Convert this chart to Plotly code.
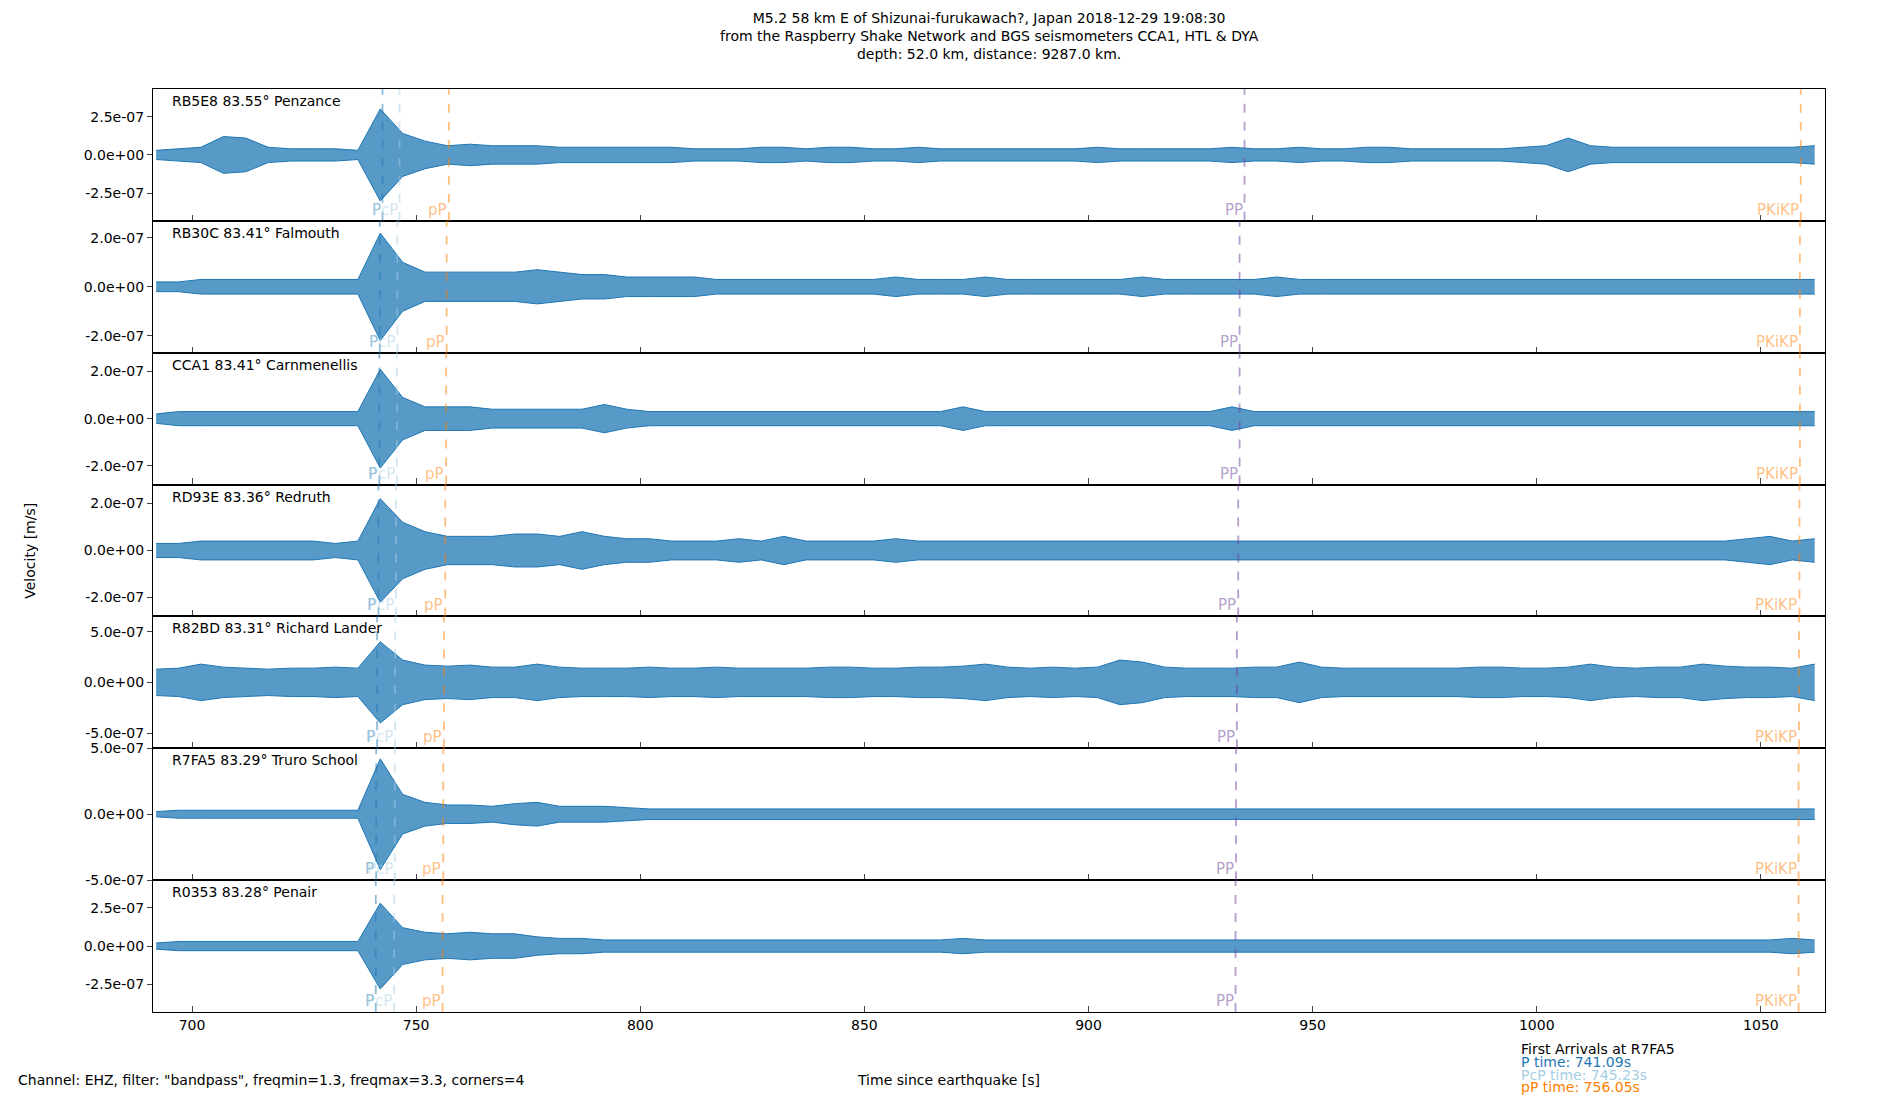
import numpy as np
import plotly.graph_objects as go
from plotly.subplots import make_subplots

# station labels
labels = ["RB5E8 83.55° Penzance", "RB30C 83.41° Falmouth", "CCA1 83.41° Carnmenellis",
          "RD93E 83.36° Redruth", "R82BD 83.31° Richard Lander", "R7FA5 83.29° Truro School",
          "R0353 83.28° Penair"]

# waveform envelope, units of 1e-8 m/s, one value every 5 s from 692 s
env_start, env_step = 692, 5
env = [
    [3, 4, 5, 12, 11, 5, 4, 4, 4, 3, 30, 14, 9, 6, 7, 6, 6, 6, 5, 5, 5, 5, 5, 5, 4, 4, 4, 5, 5, 4,
     5, 5, 4, 4, 5, 4, 4, 4, 4, 4, 4, 4, 5, 4, 4, 4, 4, 4, 5, 4, 4, 5, 4, 4, 5, 5, 4, 4, 4, 4,
     4, 5, 6, 11, 6, 5, 5, 5, 5, 5, 5, 5, 5, 5, 6],
    [2, 2, 3, 3, 3, 3, 3, 3, 3, 3, 22, 10, 6, 6, 6, 6, 6, 7, 6, 5, 5, 4, 4, 4, 4, 3, 3, 3, 3, 3,
     3, 3, 3, 4, 3, 3, 3, 4, 3, 3, 3, 3, 3, 3, 4, 3, 3, 3, 3, 3, 4, 3, 3, 3, 3, 3, 3, 3, 3, 3,
     3, 3, 3, 3, 3, 3, 3, 3, 3, 3, 3, 3, 3, 3, 3],
    [2, 3, 3, 3, 3, 3, 3, 3, 3, 3, 21, 9, 5, 5, 5, 4, 4, 4, 4, 4, 6, 4, 3, 3, 3, 3, 3, 3, 3, 3,
     3, 3, 3, 3, 3, 3, 5, 3, 3, 3, 3, 3, 3, 3, 3, 3, 3, 3, 5, 3, 3, 3, 3, 3, 3, 3, 3, 3, 3, 3,
     3, 3, 3, 3, 3, 3, 3, 3, 3, 3, 3, 3, 3, 3, 3],
    [3, 3, 4, 4, 4, 4, 4, 4, 3, 4, 22, 12, 8, 6, 6, 6, 7, 7, 6, 8, 6, 5, 5, 4, 4, 4, 5, 4, 6, 4,
     4, 4, 4, 5, 4, 4, 4, 4, 4, 4, 4, 4, 4, 4, 4, 4, 4, 4, 4, 4, 4, 4, 4, 4, 4, 4, 4, 4, 4, 4,
     4, 4, 4, 4, 4, 4, 4, 4, 4, 4, 4, 5, 6, 4, 5],
    [13, 14, 18, 15, 14, 13, 14, 14, 15, 14, 40, 22, 17, 16, 17, 15, 15, 18, 15, 14, 14, 14, 15, 14, 14, 15, 14, 14, 14, 14,
     15, 15, 14, 14, 15, 15, 16, 18, 15, 14, 15, 14, 15, 22, 20, 15, 14, 14, 14, 15, 15, 20, 15, 14, 14, 14, 14, 14, 14, 15,
     15, 14, 14, 15, 18, 15, 14, 15, 15, 18, 16, 15, 15, 14, 18],
    [2, 3, 3, 3, 3, 3, 3, 3, 3, 3, 42, 15, 9, 7, 7, 6, 8, 9, 6, 6, 6, 5, 4, 4, 4, 4, 4, 4, 4, 4,
     4, 4, 4, 4, 4, 4, 4, 4, 4, 4, 4, 4, 4, 4, 4, 4, 4, 4, 4, 4, 4, 4, 4, 4, 4, 4, 4, 4, 4, 4,
     4, 4, 4, 4, 4, 4, 4, 4, 4, 4, 4, 4, 4, 4, 4],
    [2, 3, 3, 3, 3, 3, 3, 3, 3, 3, 28, 12, 9, 8, 9, 8, 8, 6, 5, 5, 4, 4, 4, 4, 4, 4, 4, 4, 4, 4,
     4, 4, 4, 4, 4, 4, 5, 4, 4, 4, 4, 4, 4, 4, 4, 4, 4, 4, 4, 4, 4, 4, 4, 4, 4, 4, 4, 4, 4, 4,
     4, 4, 4, 4, 4, 4, 4, 4, 4, 4, 4, 4, 4, 5, 4],
]

# y axis half-range and tick value per panel (m/s)
yhalf = [4.3e-7, 2.7e-7, 2.8e-7, 2.8e-7, 6.5e-7, 5.0e-7, 4.3e-7]
ytick = [2.5e-7, 2.0e-7, 2.0e-7, 2.0e-7, 5.0e-7, 5.0e-7, 2.5e-7]

# arrival times per panel (s)
p_times = [742.5, 741.9, 741.8, 741.6, 741.3, 741.09, 741.0]
pcp_times = [746.3, 745.8, 745.7, 745.5, 745.3, 745.23, 745.1]
pp2_times = [757.3, 756.8, 756.7, 756.5, 756.2, 756.05, 755.9]
PP_times = [934.8, 933.7, 933.7, 933.4, 933.1, 932.9, 932.8]
pkikp_times = [1058.9, 1058.7, 1058.7, 1058.6, 1058.5, 1058.4, 1058.4]

phases = [
    ("P", p_times, "rgba(31,120,180,0.5)"),
    ("PcP", pcp_times, "rgba(166,206,227,0.5)"),
    ("pP", pp2_times, "rgba(255,127,0,0.5)"),
    ("PP", PP_times, "rgba(106,61,154,0.5)"),
    ("PKiKP", pkikp_times, "rgba(255,127,0,0.5)"),
]

n = len(labels)
fig = make_subplots(rows=n, cols=1, shared_xaxes=True, vertical_spacing=0)
blue = "#1f77b4"

for i in range(n):
    e = np.array(env[i]) * 1e-8
    t = env_start + env_step * np.arange(len(e))
    fig.add_trace(go.Scatter(x=t, y=-e, mode="lines", line=dict(color=blue, width=1),
                             showlegend=False, hoverinfo="skip"), row=i + 1, col=1)
    fig.add_trace(go.Scatter(x=t, y=e, mode="lines", line=dict(color=blue, width=1),
                             fill="tonexty", fillcolor="rgba(31,119,180,0.75)",
                             showlegend=False), row=i + 1, col=1)
    ax = "" if i == 0 else str(i + 1)
    for name, times, col in phases:
        fig.add_shape(type="line", x0=times[i], x1=times[i], y0=0, y1=1,
                      xref=f"x{ax}", yref=f"y{ax} domain",
                      line=dict(color=col, width=1.8, dash="dash"))
        fig.add_annotation(x=times[i], y=0, xref=f"x{ax}", yref=f"y{ax} domain",
                           text=name, showarrow=False, xanchor="right", yanchor="bottom",
                           font=dict(size=15, color=col))
    fig.add_annotation(x=0.01, y=0.985, xref=f"x{ax} domain", yref=f"y{ax} domain",
                       text=labels[i], showarrow=False, xanchor="left", yanchor="top",
                       font=dict(size=14, color="black"))
    tv = [-ytick[i], 0, ytick[i]]
    fig.update_yaxes(range=[-yhalf[i], yhalf[i]], tickvals=tv,
                     ticktext=[f"{v:.1e}" for v in tv], row=i + 1, col=1)

fig.update_xaxes(range=[691.3, 1064.3], tickvals=[700, 750, 800, 850, 900, 950, 1000, 1050],
                 ticks="inside", ticklen=6, showline=True, linecolor="black", linewidth=1.2,
                 mirror=True, tickfont=dict(size=14, color="black"),
                 showgrid=False, zeroline=False)
fig.update_yaxes(ticks="outside", ticklen=5, showline=True, linecolor="black", linewidth=1.2,
                 mirror=True, zeroline=False, showgrid=False, tickfont=dict(size=14, color="black"))

fig.add_annotation(x=0.5, y=1.0, xref="paper", yref="paper", yshift=25, showarrow=False,
                   text="M5.2 58 km E of Shizunai-furukawach?, Japan 2018-12-29 19:08:30<br>"
                        "from the Raspberry Shake Network and BGS seismometers CCA1, HTL & DYA<br>"
                        "depth: 52.0 km, distance: 9287.0 km.",
                   yanchor="bottom", font=dict(size=14, color="black"))
fig.add_annotation(x=-0.08, y=0.5, xref="paper", yref="paper", text="Velocity [m/s]",
                   textangle=-90, showarrow=False, font=dict(size=14, color="black"))
fig.add_annotation(x=-0.082, y=-0.085, xref="paper", yref="paper", xanchor="left",
                   text='Channel: EHZ, filter: "bandpass", freqmin=1.3, freqmax=3.3, corners=4',
                   showarrow=False, font=dict(size=14, color="black"))
fig.add_annotation(x=0.476, y=-0.085, xref="paper", yref="paper",
                   text="Time since earthquake [s]", showarrow=False,
                   font=dict(size=14, color="black"))
legend_lines = [("First Arrivals at R7FA5", "black"), ("P time: 741.09s", "#1f78b4"),
                ("PcP time: 745.23s", "#a6cee3"), ("pP time: 756.05s", "#ff7f00")]
for k, (txt, col) in enumerate(legend_lines):
    fig.add_annotation(x=0.817, y=-0.051 - 0.0138 * k, xref="paper", yref="paper",
                       xanchor="left", text=txt, showarrow=False,
                       font=dict(size=14, color=col))

fig.update_layout(width=1900, height=1100, plot_bgcolor="white", paper_bgcolor="white",
                  margin=dict(l=145, r=83, t=81, b=96),
                  font=dict(family="DejaVu Sans", color="black"))
fig.write_html("out.html")
